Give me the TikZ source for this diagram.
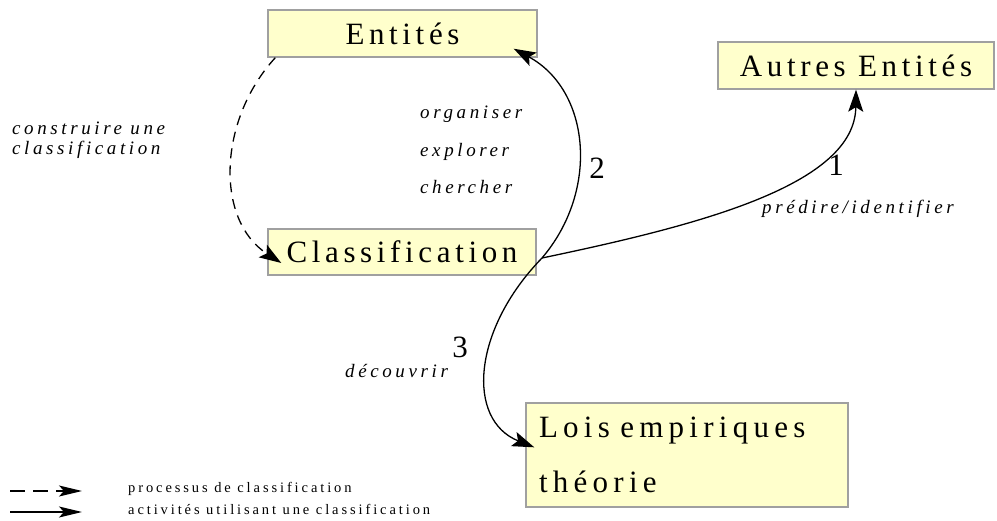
\documentclass[tikz,border=0pt]{standalone}
\usepackage{fontspec}
\setmainfont{Liberation Serif}
\newfontfamily\boxfont[LetterSpace=15]{Liberation Serif}
\newfontfamily\loisfont[LetterSpace=17]{Liberation Serif}
\newfontfamily\labfont[LetterSpace=19]{Liberation Serif}
\newfontfamily\legfont[LetterSpace=20]{Liberation Serif}
\usetikzlibrary{arrows.meta,calc}
\definecolor{boxfill}{RGB}{255,255,204}
\definecolor{boxline}{RGB}{160,160,160}
\begin{document}
\begin{tikzpicture}[x=1pt,y=-1pt,
  box/.style={draw=boxline, fill=boxfill, line width=1.4pt, inner sep=0pt,
    font=\boxfont\fontsize{31}{37}\selectfont},
  lab/.style={inner sep=0pt, anchor=base west, font=\labfont\itshape\fontsize{19}{21}\selectfont},
  num/.style={inner sep=0pt, font=\fontsize{31}{37}\selectfont},
  leg/.style={inner sep=0pt, anchor=base west, font=\legfont\fontsize{14.5}{17}\selectfont},
  conn/.style={line width=1.3pt, -{Stealth[length=22pt,width=15pt,inset=4.5pt]}},
  dashconn/.style={conn, dash pattern=on 10pt off 7pt},
  legarrow/.style={line width=1.3pt, -{Stealth[length=23pt,width=11pt,inset=5pt]}}
]
\useasboundingbox (0,0) rectangle (997,520);

% boxes
\node[box, minimum width=269pt, minimum height=47pt] (ent) at (402.5,33.5) {Entités};
\node[box, minimum width=276pt, minimum height=47pt] (aut) at (856,65.5) {Autres Entités};
\node[box, minimum width=268pt, minimum height=46pt] (cla) at (402,252) {Classification};
\node[box, minimum width=322pt, minimum height=104pt, inner xsep=13pt,
      text width=296pt, align=left, font=\loisfont\fontsize{31}{55}\selectfont]
      (lois) at (687,455) {Lois empiriques\\théorie};

% hub point at the right of Classification
\coordinate (hub) at (542,258);

% connectors
\draw[dashconn] ($(ent.south west)+(8,0)$) .. controls (218,120) and (215,220) .. ($(cla.west)+(14,11)$);
\draw[conn] (hub) .. controls (600,190) and (590,90) .. ($(ent.south east)+(-24,-9)$);
\draw[conn] (hub) .. controls (700,225) and (855,185) .. (aut.south);
\draw[conn] (hub) .. controls (472,330) and (466,420) .. ($(lois.north west)+(9,45)$);

% labels
\node[lab] (lc1) at (12,134) {construire une};
\node[lab] (lc2) at (12,154) {classification};
\node[lab] (lorg) at (420,118) {organiser};
\node[lab] (lexp) at (420,156) {explorer};
\node[lab] (lche) at (420,193) {chercher};
\node[lab] (lpre) at (762,213) {prédire/identifier};
\node[lab] (ldec) at (345,377) {découvrir};
\node[num] (n2) at (597,168) {2};
\node[num] (n1) at (836,165) {1};
\node[num] (n3) at (460,347) {3};

% legend
\coordinate (l1a) at (10,491);
\coordinate (l1b) at (82,491);
\coordinate (l2a) at (10,512);
\coordinate (l2b) at (82,512);
\draw[legarrow, dash pattern=on 15pt off 8pt] (l1a) -- (l1b);
\draw[legarrow] (l2a) -- (l2b);
\node[leg] (leg1) at (128,492) {processus de classification};
\node[leg] (leg2) at (128,514) {activités utilisant une classification};
\end{tikzpicture}
\end{document}
